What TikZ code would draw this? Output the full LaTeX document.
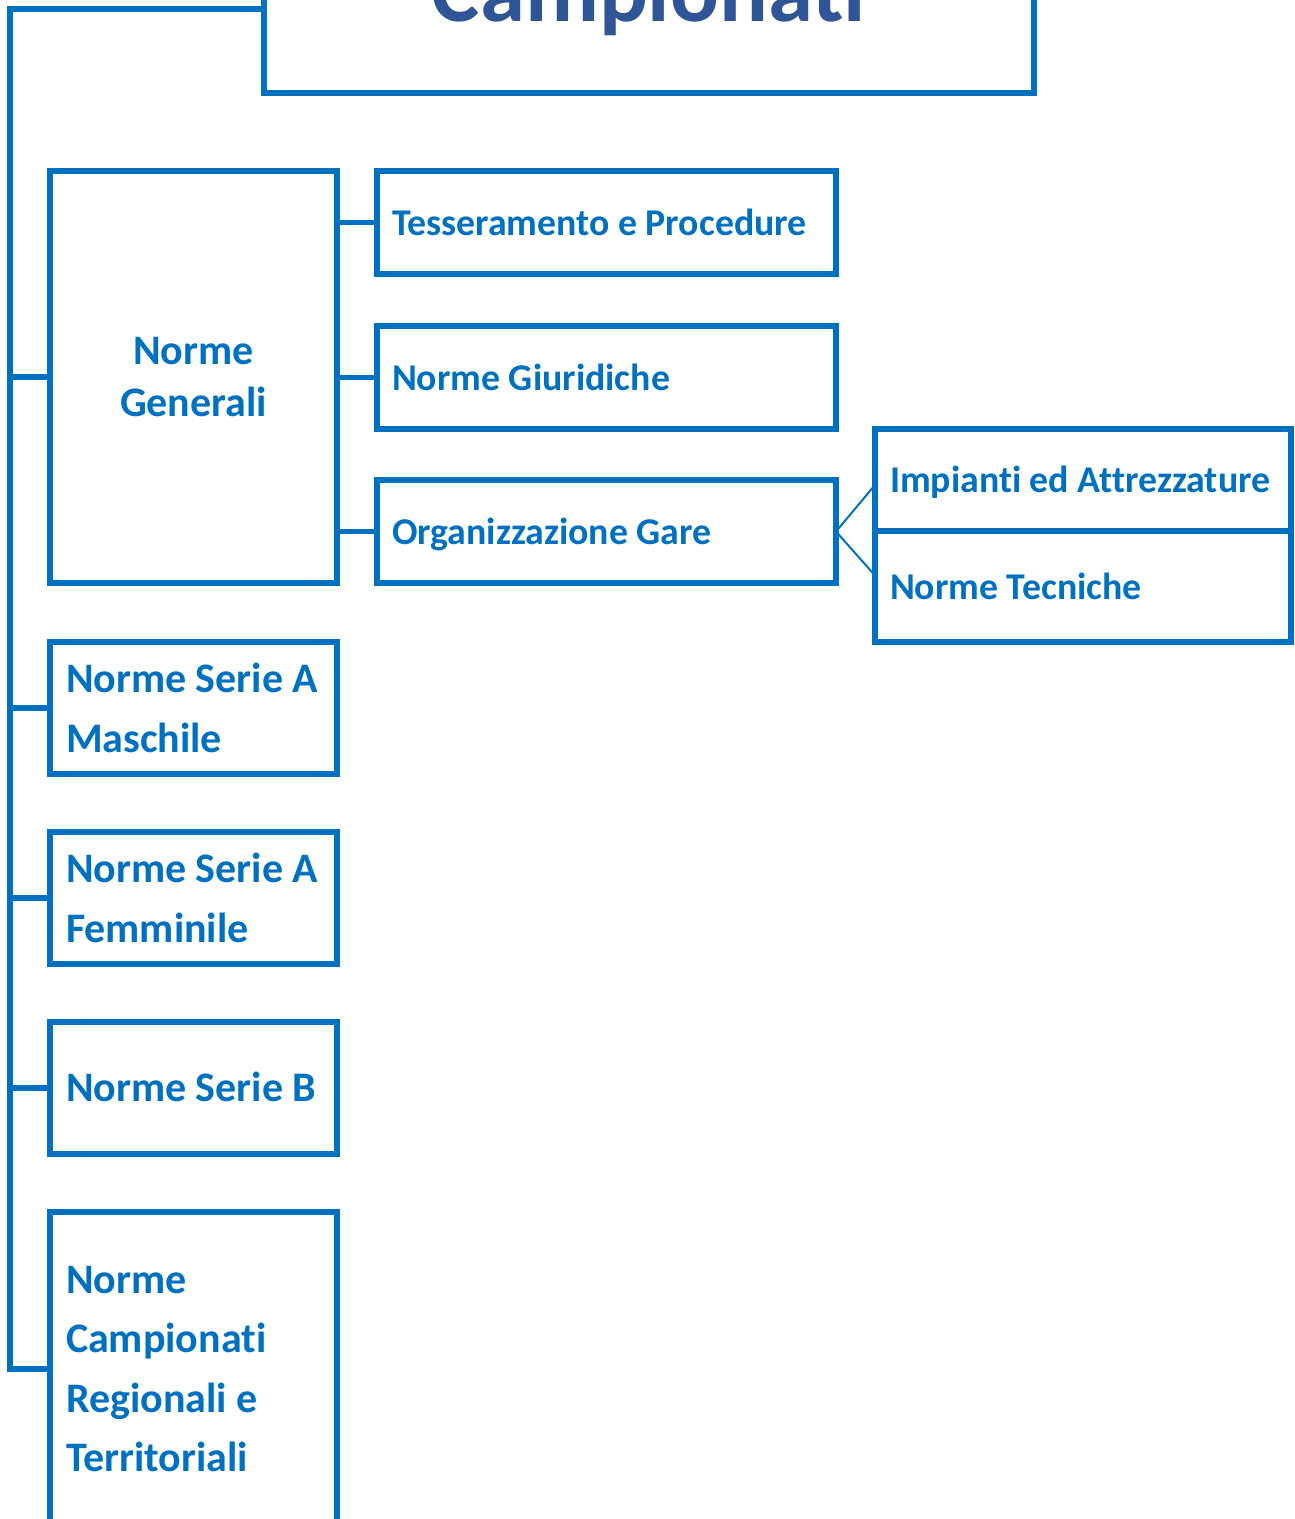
\documentclass[tikz,border=0pt]{standalone}
\usepackage{fontspec}
\setmainfont{Carlito}[Ligatures=NoCommon]
\usetikzlibrary{positioning,calc}
\definecolor{boxblue}{HTML}{0070C0}
\definecolor{titleblue}{HTML}{2F5597}

\begin{document}
\begin{tikzpicture}[x=1pt, y=-1pt,
    box/.style={draw=boxblue, line width=5.5pt, anchor=north west, outer sep=0pt, inner sep=0pt, text=boxblue},
    leftbox/.style={box, minimum width=287pt, text width=255pt, inner xsep=16pt, align=flush left, font=\fontsize{42}{59.5}\selectfont\bfseries},
    midbox/.style={box, minimum width=459pt, minimum height=103pt, text width=429pt, inner xsep=15pt, align=flush left, text height=25pt, text depth=0pt, font=\fontsize{37.8}{44}\selectfont\bfseries},
    rightbox/.style={box, minimum width=416pt, text width=386pt, inner xsep=15pt, align=flush left, text height=25pt, text depth=0pt, font=\fontsize{37.8}{44}\selectfont\bfseries},
    conn/.style={draw=boxblue, line width=5.5pt},
    thinconn/.style={draw=boxblue, line width=2pt}]
    \useasboundingbox (0,0) rectangle (1294,1519);

    % title box, cut by the top edge
    \node[box, minimum width=770pt, minimum height=168pt] (titlebox) at (264,-75) {};
    \node[anchor=base, text=titleblue, font=\fontsize{91}{100}\selectfont\bfseries] (titolo) at ($(titlebox.south)+(0,-72)$) {Campionati};

    % left column
    \node[leftbox, minimum height=412pt, align=flush center, font=\fontsize{42}{52}\selectfont\bfseries] (generali) at (50,171) {Norme\\Generali};
    \node[leftbox, minimum height=132pt] (maschile) at (50,642) {\mbox{Norme Serie A}\\Maschile};
    \node[leftbox, minimum height=132pt] (femminile) at (50,832) {\mbox{Norme Serie A}\\Femminile};
    \node[leftbox, minimum height=132pt, text height=26pt, text depth=0pt] (serieb) at (50,1022) {\mbox{Norme Serie B}};
    \node[leftbox, minimum height=314pt] (regionali) at (50,1212) {Norme\\Campionati\\Regionali e\\Territoriali};

    % second column
    \node[midbox] (tesseramento) at (377,171) {Tesseramento e Procedure};
    \node[midbox] (giuridiche) at (377,326) {Norme Giuridiche};
    \node[midbox] (organizzazione) at (377,480) {Organizzazione Gare};

    % third column
    \node[rightbox, minimum height=102pt] (impianti) at (875,429) {\mbox{Impianti ed Attrezzature}};
    \node[rightbox, minimum height=111pt] (tecniche) at (875,531) {Norme Tecniche};

    % spine on the left
    \coordinate (spine) at (10,9);
    \draw[conn] (titlebox.west) -- (spine) |- (regionali.west);
    \foreach \n in {generali,maschile,femminile,serieb}
        \draw[conn] (spine |- \n.west) -- (\n.west);

    \foreach \n in {tesseramento,giuridiche,organizzazione}
        \draw[conn] (generali.east |- \n.west) -- (\n.west);

    \draw[thinconn] ([yshift=-5pt]impianti.west) -- (organizzazione.east) -- ([yshift=11pt]tecniche.west);
\end{tikzpicture}
\end{document}
